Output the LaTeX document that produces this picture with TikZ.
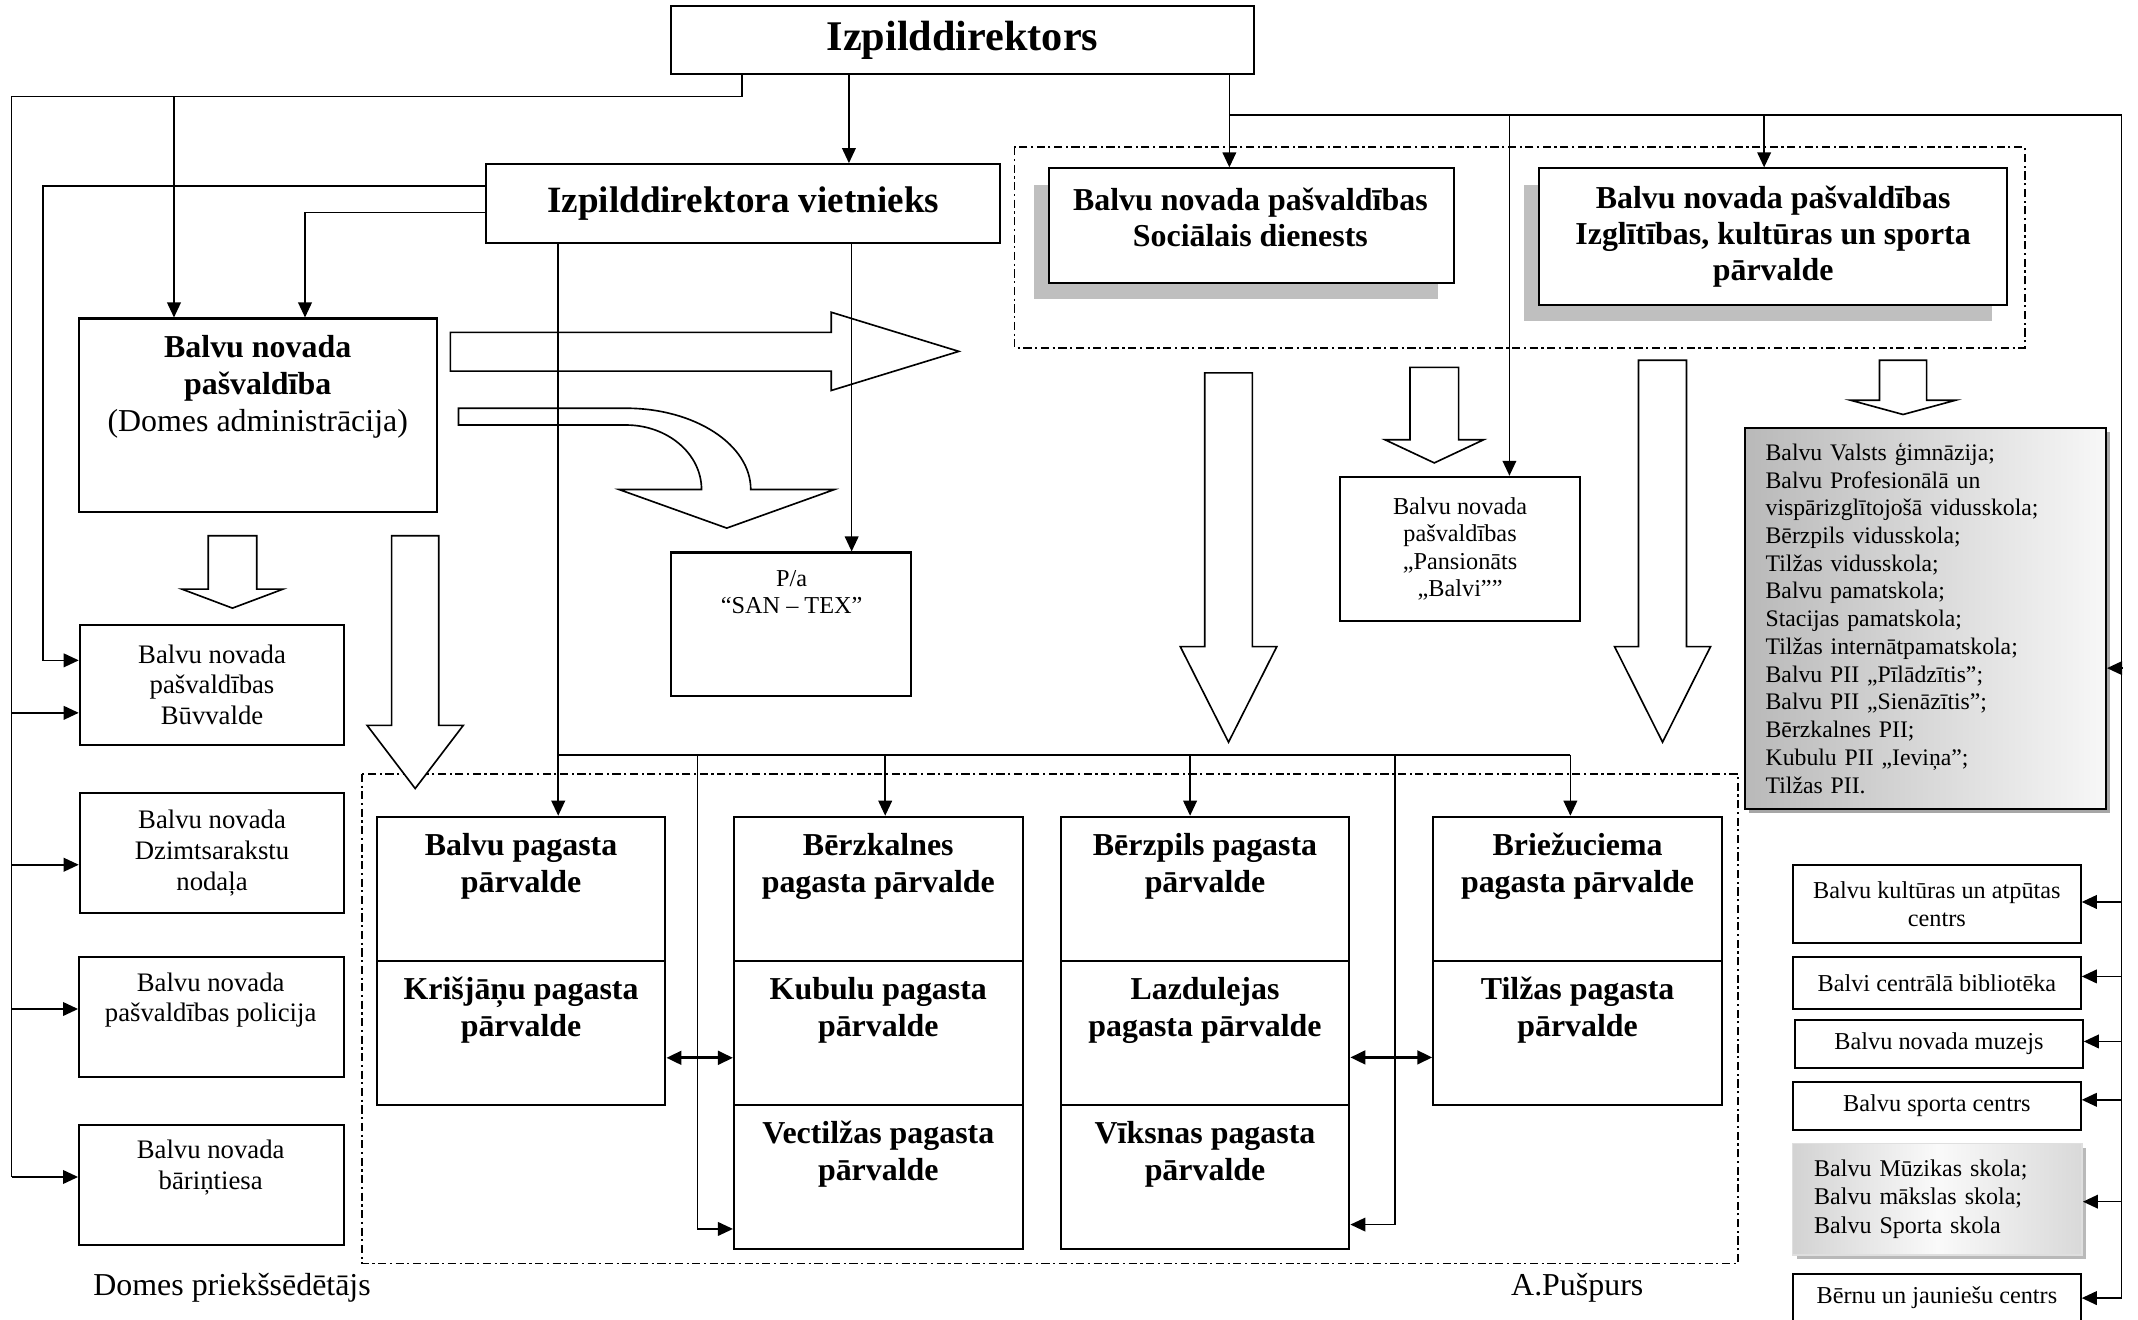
\documentclass[tikz,border=0pt]{standalone}
\usepackage{fontspec}
\setmainfont{Liberation Serif}
\usetikzlibrary{arrows.meta,shadows}

\begin{document}
\begin{tikzpicture}[
		x=0.5pt, y=-0.5pt,
		>={Triangle[length=5.5pt,width=5pt]},
		line width=0.6pt,
		box/.style = {draw, fill=white, line width=0.75pt, inner sep=0pt},
		shbox/.style = {box, drop shadow={shadow xshift=-5.6pt, shadow yshift=-6.1pt, fill=gray!50, opacity=1}},
		cell/.style = {box, minimum width=105.85pt, minimum height=52.8pt},
		lbox/.style = {box, minimum width=97pt, minimum height=44pt},
		rbox/.style = {box, minimum width=105.5pt, align=center, font=\fontsize{8.9}{10.3}\selectfont},
		hollow/.style = {draw, fill=white, line width=0.6pt},
		dashdot/.style = {line width=0.6pt, dash pattern=on 3pt off 1.3pt on 0.8pt off 1.3pt},
		boldtxt/.style = {align=center, font=\fontsize{11.7}{13.5}\selectfont\bfseries},
		smalltxt/.style = {align=center, font=\fontsize{9.8}{11.2}\selectfont},
		tinytxt/.style = {align=center, font=\fontsize{8.9}{10}\selectfont}
	]
	\useasboundingbox (0,0) rectangle (1568,967.4);

	% dash-dot groups
	\draw[dashdot] (744,108) rectangle (1484.9,255);
	\draw[dashdot] (265.3,567.5) rectangle (1274.6,926.7);

	% hollow block arrows
	\draw[hollow] (330.3,243.8) -- (609.6,243.8) -- (609.6,229) -- (703.2,257.7) -- (609.6,286.4) -- (609.6,272.2) -- (330.3,272.2) -- cycle;
	\draw[hollow] (336.3,299.4) -- (459,299.4) .. controls (509.6,299.4) and (550.6,326.1) .. (550.6,359) -- (612,359) -- (533,387.3) -- (454,359) -- (514.5,359) .. controls (514.5,332.9) and (489.7,311.7) .. (459,311.7) -- (336.3,311.7) -- cycle;
	\foreach \cx/\sw/\hw/\ty/\by/\tp in {170.5/17.75/37/392.9/432.1/446, 304.5/17.25/35.25/392.9/532/578.3, 901/17.5/35.4/273.5/474.2/544.3, 1051.9/17.8/36.2/269.4/322.5/339.5, 1219.3/17.6/35.2/264.2/474.2/544.3, 1395.7/17.3/38.6/264.2/293.5/304}
		\draw[hollow] (\cx-\sw,\ty) -- (\cx+\sw,\ty) -- (\cx+\sw,\by) -- (\cx+\hw,\by) -- (\cx,\tp) -- (\cx-\hw,\by) -- (\cx-\sw,\by) -- cycle;

	% top level
	\node[box, minimum width=213.85pt, minimum height=25pt, font=\fontsize{15.5}{18}\selectfont\bfseries] (dir) at (705.85,29.6) {Izpilddirektors};
	\node[box, minimum width=188.65pt, minimum height=28.8pt, font=\fontsize{13.6}{16}\selectfont\bfseries] (viet) at (545.05,149.2) {Izpilddirektora vietnieks};

	\node[box, minimum width=131.35pt, minimum height=71pt] (domes) at (188.95,304.6) {};
	\node[boldtxt] (domes-t) at (189,283.6) {Balvu novada\\pašvaldība\\\textmd{(Domes administrācija)}};
	\node[box, minimum width=88pt, minimum height=52.75pt] (pa) at (580,457.95) {};
	\node[tinytxt] (pa-t) at (580.6,434.4) {P/a\\“SAN – TEX”};

	\node[shbox, minimum width=148.2pt, minimum height=41.95pt] (soc) at (917.8,165.45) {};
	\node[boldtxt, font=\fontsize{11.7}{13.1}\selectfont\bfseries] (soc-t) at (917,159.7) {Balvu novada pašvaldības\\Sociālais dienests};
	\node[shbox, boldtxt, font=\fontsize{11.7}{13.1}\selectfont\bfseries, minimum width=171.6pt, minimum height=50pt] (izgl) at (1300.4,173.5) {Balvu novada pašvaldības\\Izglītības, kultūras un sporta\\pārvalde};
	\node[box, tinytxt, minimum width=87.8pt, minimum height=52.95pt] (pans) at (1070.8,402.65) {Balvu novada\\pašvaldības\\„Pansionāts\\„Balvi””};

	\node[box, minimum width=132.25pt, minimum height=139.85pt, text width=117.35pt, inner xsep=7.45pt, align=left, font=\fontsize{8.7}{10.17}\selectfont, left color=gray!55, right color=gray!6, drop shadow={shadow xshift=1.5pt, shadow yshift=-1.5pt, fill=gray!70, opacity=1}] (skolas) at (1412.25,453.45) {Balvu Valsts ģimnāzija;\\Balvu Profesionālā un\\vispārizglītojošā vidusskola;\\Bērzpils vidusskola;\\Tilžas vidusskola;\\Balvu pamatskola;\\Stacijas pamatskola;\\Tilžas internātpamatskola;\\Balvu PII „Pīlādzītis”;\\Balvu PII „Sienāzītis”;\\Bērzkalnes PII;\\Kubulu PII „Ieviņa”;\\Tilžas PII.};

	% left column
	\node[lbox, smalltxt] (buv) at (155.5,502.25) {Balvu novada\\pašvaldības\\Būvvalde};
	\node[lbox, smalltxt] (dzim) at (155.5,625.65) {Balvu novada\\Dzimtsarakstu\\nodaļa};
	\node[lbox] (pol) at (155,745.7) {};
	\node[smalltxt] (pol-t) at (154.5,733.5) {Balvu novada\\pašvaldības policija};
	\node[lbox] (bar) at (155,868.9) {};
	\node[smalltxt] (bar-t) at (154.5,856.2) {Balvu novada\\bāriņtiesa};

	% right column
	\node[rbox, minimum height=28.75pt] (kult) at (1420.5,662.95) {Balvu kultūras un atpūtas\\centrs};
	\node[rbox, minimum height=19.05pt] (bibl) at (1420.5,720.95) {Balvi centrālā bibliotēka};
	\node[rbox, minimum height=17.6pt] (muz) at (1422,765.5) {Balvu novada muzejs};
	\node[rbox, minimum height=17.8pt] (sport) at (1420.5,811.1) {Balvu sporta centrs};
	\node[minimum width=106.2pt, minimum height=40.8pt, text width=90.3pt, inner xsep=7.95pt, align=left, font=\fontsize{8.8}{10.3}\selectfont, left color=gray!35, right color=gray!30, middle color=gray!4, draw=gray!25, drop shadow={shadow xshift=1.5pt, shadow yshift=-1.5pt, fill=gray!55, opacity=1}] (muzik) at (1420.8,879.5) {Balvu Mūzikas skola;\\Balvu mākslas skola;\\Balvu Sporta skola};
	\node[rbox, minimum height=18pt] (bern) at (1420.5,952) {Bērnu un jauniešu centrs};

	% parishes
	\foreach \n/\cx/\cy/\t in {
		b1/382.15/651.8/{Balvu pagasta\\pārvalde},
		b2/382.15/757.4/{Krišjāņu pagasta\\pārvalde},
		z1/644.15/651.8/{Bērzkalnes\\pagasta pārvalde},
		z2/644.15/757.4/{Kubulu pagasta\\pārvalde},
		z3/644.15/863.0/{Vectilžas pagasta\\pārvalde},
		p1/883.75/651.8/{Bērzpils pagasta\\pārvalde},
		p2/883.75/757.4/{Lazdulejas\\pagasta pārvalde},
		p3/883.75/863.0/{Vīksnas pagasta\\pārvalde},
		r1/1157/651.8/{Briežuciema\\pagasta pārvalde},
		r2/1157/757.4/{Tilžas pagasta\\pārvalde}}{
		\node[cell] (\n) at (\cx,\cy) {};
		\node[boldtxt] (\n-t) at (\cx,\cy-16.5) {\t};
	}

	\node[boldtxt, font=\fontsize{11.7}{13.5}\selectfont] (sign1) at (170.2,944.2) {Domes priekšsēdētājs};
	\node[boldtxt, font=\fontsize{11.7}{13.5}\selectfont] (sign2) at (1156.75,944.2) {A.Pušpurs};

	% connectors
	\coordinate (lt) at (544,70.7);
	\coordinate (lbus) at (8.5,70.7);
	\coordinate (rtop) at (901.6,84.3);
	\coordinate (rbus) at (1556,84.3);
	\coordinate (pbus) at (409.4,553.6);

	\draw[->] (dir.south -| 622.6,0) -- (viet.north -| 622.6,0);
	\draw (dir.south -| lt) -- (lt) -- (lbus) -- (lbus |- 0,863.2);
	\draw[->] (lbus -| 127.6,0) -- (domes.north -| 127.6,0);
	\foreach \b/\y in {buv/522.8, dzim/634.2, pol/740, bar/863.2}
		\draw[->] (lbus |- 0,\y) -- (\b.west |- 0,\y);
	\draw[->] (viet.west |- 0,136.4) -| (31.5,484.3) -- (buv.west |- 0,484.3);
	\draw[->] (viet.west |- 0,155.9) -| (domes.north -| 223.7,0);
	\draw[->] (viet.south -| 624.6,0) -- (pa.north -| 624.6,0);

	\draw[->] (viet.south -| pbus) -- (b1.north -| pbus);
	\draw (pbus) -- (1151.7,553.6);
	\foreach \c/\x in {z1/649.2, p1/872.8, r1/1151.7}
		\draw[->] (pbus -| \x,0) -- (\c.north -| \x,0);
	\draw[->] (pbus -| 511.5,0) |- (z3.west |- 0,901.3);
	\draw[->] (pbus -| 1022.9,0) |- (p3.east |- 0,898.1);
	\draw[<->, line width=1pt] (b2.east |- 0,775.8) -- (z2.west |- 0,775.8);
	\draw[<->, line width=1pt] (p2.east |- 0,775.5) -- (r2.west |- 0,775.5);

	\draw[->] (dir.south -| rtop) -- (soc.north -| rtop);
	\draw[->] (rtop) -- (rbus) |- (bern.east);
	\draw[->] (rtop -| 1107,0) -- (pans.north -| 1107,0);
	\draw[->] (rtop -| 1293.8,0) -- (izgl.north -| 1293.8,0);
	\foreach \b/\y in {skolas/490, kult/661.5, bibl/716.1, muz/763.8, sport/806.6, muzik/881.3}
		\draw[->] (rbus |- 0,\y) -- (\b.east |- 0,\y);
\end{tikzpicture}
\end{document}
